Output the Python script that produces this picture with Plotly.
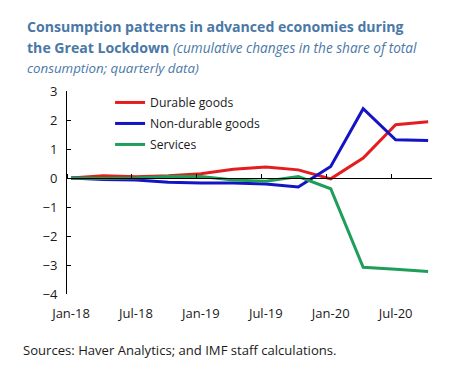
import plotly.graph_objects as go

quarters = list(range(12))
tick_labels = ["Jan-18", "Jul-18", "Jan-19", "Jul-19", "Jan-20", "Jul-20"]
tick_positions = [0, 2, 4, 6, 8, 10]

durable = [0.0, 0.08, 0.04, 0.08, 0.15, 0.30, 0.38, 0.28, -0.03, 0.69, 1.84, 1.94]
nondurable = [0.0, -0.05, -0.07, -0.15, -0.17, -0.17, -0.21, -0.31, 0.40, 2.39, 1.32, 1.29]
services = [0.0, -0.02, 0.0, 0.05, 0.05, -0.07, -0.11, 0.05, -0.37, -3.08, -3.15, -3.22]

FONT = "Open Sans"
TITLE_COLOR = "#4a78a6"
xr = [-0.124, 11.12]
PW, PH, ML, MT = 365, 203, 67, 91


def px_to_paper(xpx, ypx):
    return (xpx - ML) / PW, 1 + (MT - ypx) / PH


fig = go.Figure()
for name, vals, col in [("Durable goods", durable, "#e41d1f"),
                        ("Non-durable goods", nondurable, "#1414c4"),
                        ("Services", services, "#1f9e5a")]:
    fig.add_trace(go.Scatter(x=quarters, y=vals, mode="lines", name=name,
                             legendgroup=name,
                             line=dict(color=col, width=3)))

fig.update_layout(
    width=473, height=378,
    margin=dict(l=ML, r=473 - ML - PW, t=MT, b=378 - MT - PH, autoexpand=False),
    paper_bgcolor="white", plot_bgcolor="white",
    font=dict(family=FONT, size=13, color="#1a1a1a"),
    showlegend=True,
    legend=dict(x=0.118, y=1.015, xanchor="left", yanchor="top",
                bgcolor="rgba(0,0,0,0)", font=dict(size=12.2, color="#1a1a1a"),
                tracegroupgap=2),
    xaxis=dict(range=xr, tickvals=tick_positions, ticktext=tick_labels,
               showline=False, showgrid=False, zeroline=False, ticks="",
               ticklabelstandoff=10, tickfont=dict(size=13), automargin=False),
    xaxis2=dict(range=xr, overlaying="x", anchor="free", position=4/7,
                side="top", showline=True, linecolor="black", linewidth=1,
                ticks="outside", ticklen=4, tickcolor="black",
                tickvals=[xr[0] + 2 * k for k in range(6)],
                showticklabels=False, showgrid=False, zeroline=False,
                automargin=False),
    yaxis=dict(range=[-4, 3], dtick=1, showline=True, linecolor="black",
               linewidth=1, ticks="inside", ticklen=4, tickcolor="black",
               showgrid=False, zeroline=False, ticklabelstandoff=6,
               tickfont=dict(size=13), automargin=False),
)
fig.add_trace(go.Scatter(x=[None], y=[None], xaxis="x2", showlegend=False,
                         hoverinfo="skip"))

title_lines = [
    (26, "<b>Consumption patterns in advanced economies during</b>"),
    (47, "<b>the Great Lockdown</b> <i><span style='font-size:13.6px'>(cumulative changes in the share of total</span></i>"),
    (67.5, "<i><span style='font-size:13.3px'>consumption; quarterly data)</span></i>"),
]
for ypx, txt in title_lines:
    xp, yp = px_to_paper(25, ypx)
    fig.add_annotation(
        xref="paper", yref="paper", x=xp, y=yp, xanchor="left", yanchor="middle",
        align="left", showarrow=False, text=txt,
        font=dict(family=FONT, size=14.1, color=TITLE_COLOR),
    )

xp, yp = px_to_paper(21, 350)
fig.add_annotation(
    xref="paper", yref="paper", x=xp, y=yp, xanchor="left", yanchor="middle",
    align="left", showarrow=False,
    text="Sources: Haver Analytics; and IMF staff calculations.",
    font=dict(family=FONT, size=13.1, color="#1a1a1a"),
)

fig.write_html("out.html", post_script="document.body.style.margin='0';",
               config={"displayModeBar": False})
